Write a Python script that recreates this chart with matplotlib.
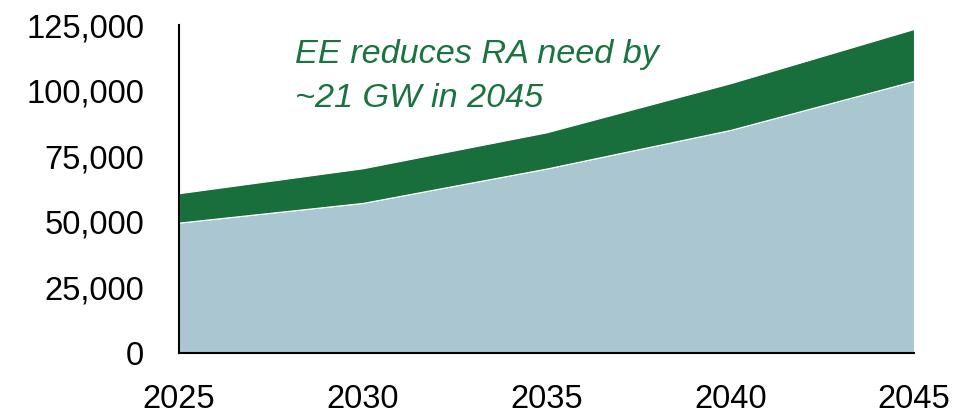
import matplotlib
matplotlib.use("Agg")
import matplotlib.pyplot as plt
from matplotlib.ticker import FuncFormatter

years = [2025, 2030, 2035, 2040, 2045]
ra_need_with_ee = [49700, 57200, 70300, 85000, 103700]
ee_reduction = [11200, 13200, 13800, 17800, 19800]

blue = "#A9C6D1"
green = "#186F3B"
text_green = "#1A7340"

plt.rcParams["font.family"] = ["Liberation Sans", "DejaVu Sans"]

fig = plt.figure(figsize=(9.72, 4.15), dpi=100)
ax = fig.add_axes([179 / 972, 62 / 415, 735 / 972, 328 / 415])

ax.stackplot(years, ra_need_with_ee, ee_reduction,
             colors=[blue, green], edgecolor="white", linewidth=0.8)

ax.set_xlim(2025, 2045)
ax.set_ylim(0, 125000)
ax.set_xticks(years)
ax.set_yticks(range(0, 125001, 25000))
ax.yaxis.set_major_formatter(FuncFormatter(lambda v, p: f"{int(v):,}"))
ax.tick_params(axis="both", length=0, labelsize=23.5)
ax.tick_params(axis="y", pad=25)
ax.tick_params(axis="x", pad=22)

for s in ("top", "right"):
    ax.spines[s].set_visible(False)
for s in ("left", "bottom"):
    ax.spines[s].set_color("black")
    ax.spines[s].set_linewidth(1.5)
    ax.spines[s].set_zorder(5)

note_lines = ["EE reduces RA need by", "~21 GW in 2045"]
for line, yb in zip(note_lines, [0.884, 0.75]):
    ax.text(0.158, yb, line, transform=ax.transAxes, ha="left", va="baseline",
            fontsize=24.7, style="italic", color=text_green)

fig.savefig("out.png", dpi=100)
